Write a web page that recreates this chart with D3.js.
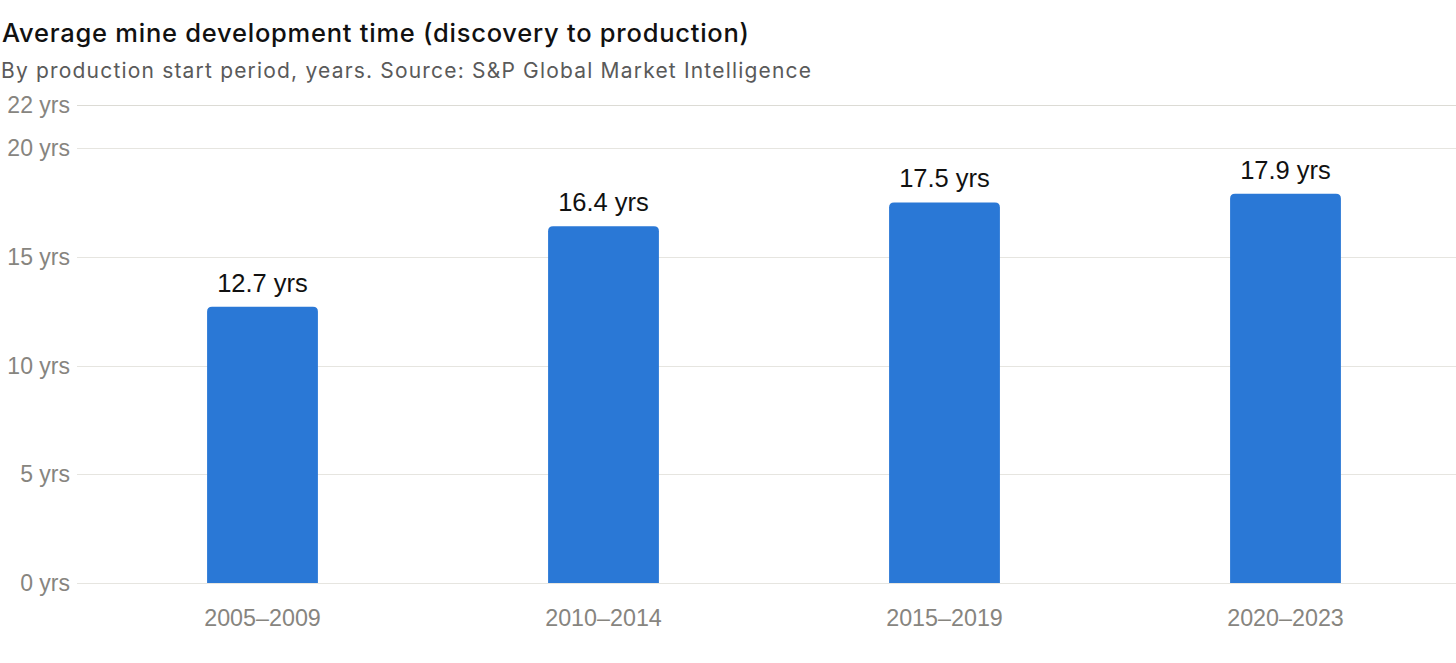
<!DOCTYPE html>
<html>
<head>
<meta charset="utf-8">
<script src="https://cdn.jsdelivr.net/npm/d3@7"></script>
<style>
  body { margin: 0; background: #fff; }
  svg text { font-family: "Liberation Sans", Arial, sans-serif; }
  .title { font-family: Inter, "Liberation Sans", sans-serif; }
</style>
</head>
<body>
<div id="chart"></div>
<script>
// chart data
var periods = ["2005\u20132009", "2010\u20132014", "2015\u20132019", "2020\u20132023"];
var years = [12.7, 16.4, 17.5, 17.9];
var yTicks = [0, 5, 10, 15, 20, 22];

var width = 1456, height = 663;
var svg = d3.select("#chart").append("svg")
    .attr("width", width)
    .attr("height", height);

// titles (stretched a little to match the wider system font)
svg.append("text")
    .attr("class", "title")
    .attr("x", 2).attr("y", 42)
    .attr("textLength", 747)
    .attr("lengthAdjust", "spacing")
    .style("font-size", "25.5px")
    .style("font-weight", 500)
    .attr("fill", "#111")
    .text("Average mine development time (discovery to production)");

svg.append("text")
    .attr("class", "title")
    .attr("x", 1).attr("y", 78)
    .attr("textLength", 810)
    .attr("lengthAdjust", "spacing")
    .style("font-size", "21px")
    .attr("fill", "#5a5a5a")
    .text("By production start period, years. Source: S&P Global Market Intelligence");

var y = d3.scaleLinear().domain([0, 22]).range([583, 104.5]);
var x = d3.scaleBand().domain(periods).range([92, 1456])
    .paddingInner(0.675).paddingOuter(0.3375);

// gridlines + y labels
var yAxis = svg.append("g");
yAxis.selectAll("line").data(yTicks).enter().append("line")
    .attr("x1", 77).attr("x2", width)
    .attr("y1", function(d) { return Math.round(y(d)) + 0.5; })
    .attr("y2", function(d) { return Math.round(y(d)) + 0.5; })
    .attr("stroke", function(d) { return d == 22 ? "#dcdbd5" : "#e6e5e0"; })
    .attr("stroke-width", 1.2);
yAxis.selectAll("text").data(yTicks).enter().append("text")
    .attr("x", 70)
    .attr("y", function(d) { return y(d); })
    .attr("dy", "0.35em")
    .attr("text-anchor", "end")
    .style("font-size", "23px")
    .attr("fill", "#87857f")
    .text(function(d) { return d + " yrs"; });

// bars with rounded tops
var r = 5;
svg.selectAll(".bar").data(years).enter().append("path")
    .attr("class", "bar")
    .attr("fill", "#2a78d6")
    .attr("d", function(d, i) {
        var x0 = x(periods[i]), w = x.bandwidth();
        var top = y(d), bot = y(0);
        return "M" + x0 + "," + bot +
            "V" + (top + r) +
            "Q" + x0 + "," + top + " " + (x0 + r) + "," + top +
            "H" + (x0 + w - r) +
            "Q" + (x0 + w) + "," + top + " " + (x0 + w) + "," + (top + r) +
            "V" + bot + "Z";
    });

// value labels
svg.selectAll(".val").data(years).enter().append("text")
    .attr("class", "val")
    .attr("x", function(d, i) { return x(periods[i]) + x.bandwidth() / 2; })
    .attr("y", function(d) { return y(d) - 15; })
    .attr("text-anchor", "middle")
    .style("font-size", "25.5px")
    .attr("fill", "#111")
    .text(function(d) { return d.toFixed(1) + " yrs"; });

// x labels
svg.selectAll(".xl").data(periods).enter().append("text")
    .attr("class", "xl")
    .attr("x", function(d) { return x(d) + x.bandwidth() / 2; })
    .attr("y", 626)
    .attr("text-anchor", "middle")
    .style("font-size", "23.3px")
    .attr("fill", "#87857f")
    .text(function(d) { return d; });
</script>
</body>
</html>
